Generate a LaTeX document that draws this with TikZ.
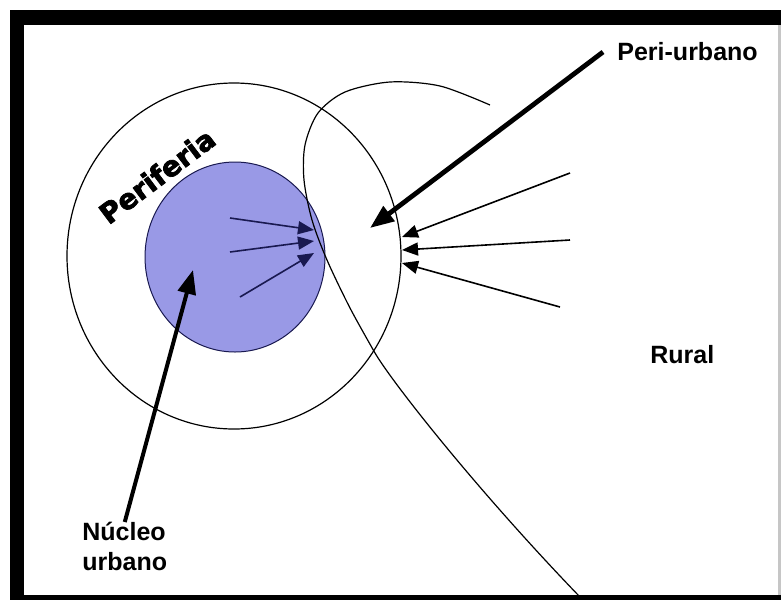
\documentclass[tikz,border=0pt]{standalone}
\usepackage{fontspec}
\setmainfont{Liberation Sans}
\newfontfamily\perifont{DejaVu Sans}[BoldFeatures={FakeBold=2.5}]
\usepackage{tikz}
\usetikzlibrary{arrows.meta, positioning}
\definecolor{nucleoblue}{RGB}{153,153,230}
\definecolor{navyline}{RGB}{25,25,80}
\tikzstyle{zonetext} = [font=\bfseries\fontsize{12.5}{15}\selectfont,
text=black]
\tikzstyle{ringtext} = [font=\perifont\bfseries\fontsize{14}{15}\selectfont,
text=black, inner sep=0pt]
\tikzstyle{bigarrow} = [line width=2.4pt, -{Triangle[length=12pt,width=9pt]}]
\tikzstyle{inarrow} = [navyline, line width=0.8pt, -{Triangle[length=8pt,width=6.5pt]}]
\tikzstyle{outarrow} = [black, line width=0.8pt, -{Triangle[length=8pt,width=6.5pt]}]

\begin{document}
\begin{tikzpicture}[x=0.5pt, y=-0.5pt]
            \useasboundingbox (0,0) rectangle (781,600);
            % frame
            \fill[black] (10,10) rectangle (781,600);
            \fill[white] (24,25) rectangle (778,595);
            \fill[gray!45] (778,25) rectangle (781,595);

            % zones
            \coordinate (core) at (235,257);
            \coordinate (ring) at (234,256);
            \coordinate (edge) at (580,597);
            \fill[nucleoblue] (core) ellipse [x radius=90, y radius=95];
            \draw[navyline, line width=0.5pt] (core) ellipse [x radius=90, y radius=95];
            \draw[line width=0.6pt] (ring) ellipse [x radius=167, y radius=173];
            \draw[line width=0.6pt] plot[smooth, tension=0.5] coordinates {(490,105) (440,86) (390,82) (345,92) (318,113) (305,145) (304,180) (312,220) (327,260) (350,308) (375,353)}
                .. controls (392,382) and (475,488) .. (edge);

            % labels
            \node (periurb) [zonetext, anchor=west, inner sep=7pt] at (603,52) {Peri-urbano};
            \node (rural) [zonetext, anchor=west, inner sep=0pt] at (650,355) {Rural};
            \node (nucleo) [zonetext, anchor=north west, align=left, inner sep=0pt] at (82,522) {N\'ucleo\\urbano};
            \node (perif) [ringtext, rotate=37] at (157,176) {Periferia};

            % arrows
            \coordinate (putip) at (370,228);
            \coordinate (nutip) at (193,270);
            \draw [bigarrow] (periurb.west) -- (putip);
            \draw [bigarrow, line width=2pt] (nucleo.north) -- (nutip);

            \coordinate (in1) at (230,218);
            \coordinate (in2) at (230,252);
            \coordinate (in3) at (240,297);
            \coordinate (it1) at (314,230);
            \coordinate (it2) at (314,241);
            \coordinate (it3) at (314,253);
            \draw [inarrow] (in1) -- (it1);
            \draw [inarrow] (in2) -- (it2);
            \draw [inarrow] (in3) -- (it3);

            \coordinate (out1) at (570,173);
            \coordinate (out2) at (570,240);
            \coordinate (out3) at (560,307);
            \coordinate (ot1) at (402,237);
            \coordinate (ot2) at (402,250);
            \coordinate (ot3) at (402,263);
            \draw [outarrow] (out1) -- (ot1);
            \draw [outarrow] (out2) -- (ot2);
            \draw [outarrow] (out3) -- (ot3);
        \end{tikzpicture}
\end{document}
